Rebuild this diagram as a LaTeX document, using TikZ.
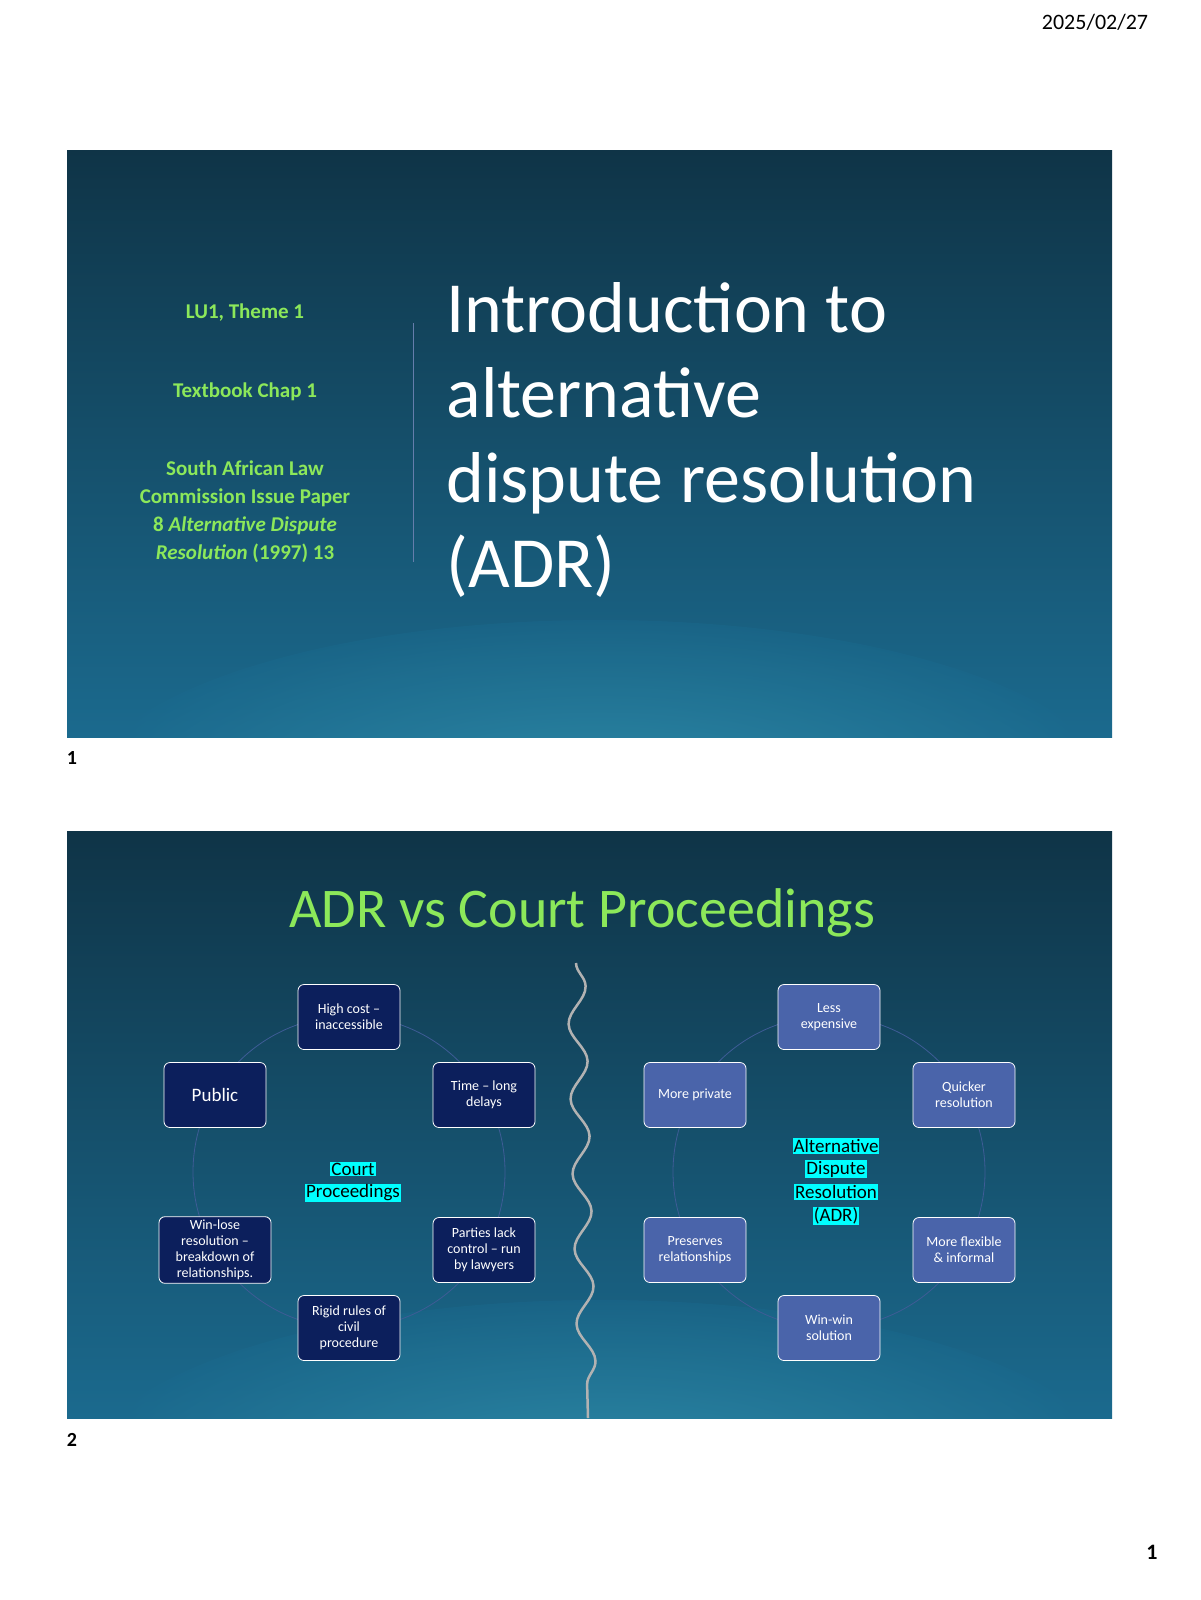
\documentclass[tikz,border=0pt]{standalone}
\usepackage{fontspec}
\setmainfont{Carlito}
\usetikzlibrary{decorations.pathmorphing}
\definecolor{sgreen}{HTML}{8CE85A}
\definecolor{dnode}{HTML}{0C1F5C}
\definecolor{lnode}{HTML}{4A64AA}
\definecolor{ring}{HTML}{3E5C96}
\definecolor{bgtop}{HTML}{0F3447}
\definecolor{bgbot}{HTML}{1B6A8E}
\definecolor{hcyan}{HTML}{00FFFF}
\tikzset{
 slide/.style={draw=none,top color=bgtop,bottom color=bgbot},
 dn/.style={draw=white,line width=0.8pt,fill=dnode,rounded corners=6pt,minimum width=102pt,minimum height=65pt,align=center,text=white,font=\fontsize{14}{16}\selectfont},
 ln/.style={dn,fill=lnode},
 lbl/.style={text=sgreen,font=\bfseries\fontsize{21}{28}\selectfont,align=center},
 hl/.style={fill=hcyan,text=black,inner sep=1pt,font=\fontsize{19}{22}\selectfont}
}
\begin{document}
\begin{tikzpicture}[x=1pt,y=-1pt]
\useasboundingbox[fill=white] (0,0) rectangle (1200,1600);
\node[font=\fontsize{22}{24}\selectfont] (date) at (1095,22) {2025/02/27};
% slide 1
\shade[slide] (67,150) rectangle (1112,737);
\begin{scope}\clip (67,150) rectangle (1112,737);
\shade[inner color=bgbot!70!cyan!80!white,outer color=bgbot,opacity=0.45] (600,800) ellipse (520 and 180);
\end{scope}
\node[lbl] (lu) at (245,313) {LU1, Theme 1};
\node[lbl] (tb) at (245,392) {Textbook Chap 1};
\node[lbl] (salc) at (245,512) {South African Law\\Commission Issue Paper\\8 \textit{Alternative Dispute}\\\textit{Resolution} (1997) 13};
\draw[ring!80!white] (413,323) -- (413,562);
\node[anchor=west,text=white,align=left,font=\fontsize{72}{85}\selectfont] (t1) at (443,440) {Introduction to\\alternative\\dispute resolution\\(ADR)};
\node[font=\bfseries\fontsize{20}{22}\selectfont] (n1) at (72,758) {1};
% slide 2
\shade[slide] (67,831) rectangle (1112,1418);
\begin{scope}\clip (67,831) rectangle (1112,1418);
\shade[inner color=bgbot!70!cyan!80!white,outer color=bgbot,opacity=0.45] (600,1480) ellipse (520 and 180);
\end{scope}
\node[text=sgreen,font=\fontsize{56}{60}\selectfont] (t2) at (582,913) {ADR vs Court Proceedings};
\draw[gray!60!white,line width=2.5pt,decorate,decoration={snake,amplitude=9pt,segment length=75pt}] (576,963) -- (588,1418);
\draw[ring,line width=0.8pt] (349,1172) circle (156);
\draw[ring,line width=0.8pt] (829,1172) circle (156);
\node[dn] (a1) at (349,1017) {High cost --\\inaccessible};
\node[dn] (a2) at (484,1095) {Time -- long\\delays};
\node[dn] (a3) at (484,1250) {Parties lack\\control -- run\\by lawyers};
\node[dn] (a4) at (349,1328) {Rigid rules of\\civil\\procedure};
\node[dn,minimum width=112pt] (a5) at (215,1250) {Win-lose\\resolution --\\breakdown of\\relationships.};
\node[dn,font=\fontsize{19}{22}\selectfont] (a6) at (215,1095) {Public};
\node[hl] (cp1) at (353,1169) {Court};
\node[hl] (cp2) at (353,1193) {Proceedings};
\node[ln] (b1) at (829,1017) {Less\\expensive};
\node[ln] (b2) at (964,1095) {Quicker\\resolution};
\node[ln] (b3) at (964,1250) {More flexible\\\& informal};
\node[ln] (b4) at (829,1328) {Win-win\\solution};
\node[ln] (b5) at (695,1250) {Preserves\\relationships};
\node[ln] (b6) at (695,1095) {More private};
\node[hl] (ad1) at (836,1146) {Alternative};
\node[hl] (ad2) at (836,1169) {Dispute};
\node[hl] (ad3) at (836,1192) {Resolution};
\node[hl] (ad4) at (836,1216) {(ADR)};
\node[font=\bfseries\fontsize{20}{22}\selectfont] (n2) at (72,1440) {2};
\node[font=\bfseries\fontsize{22}{24}\selectfont] (pg) at (1152,1552) {1};
\end{tikzpicture}
\end{document}
